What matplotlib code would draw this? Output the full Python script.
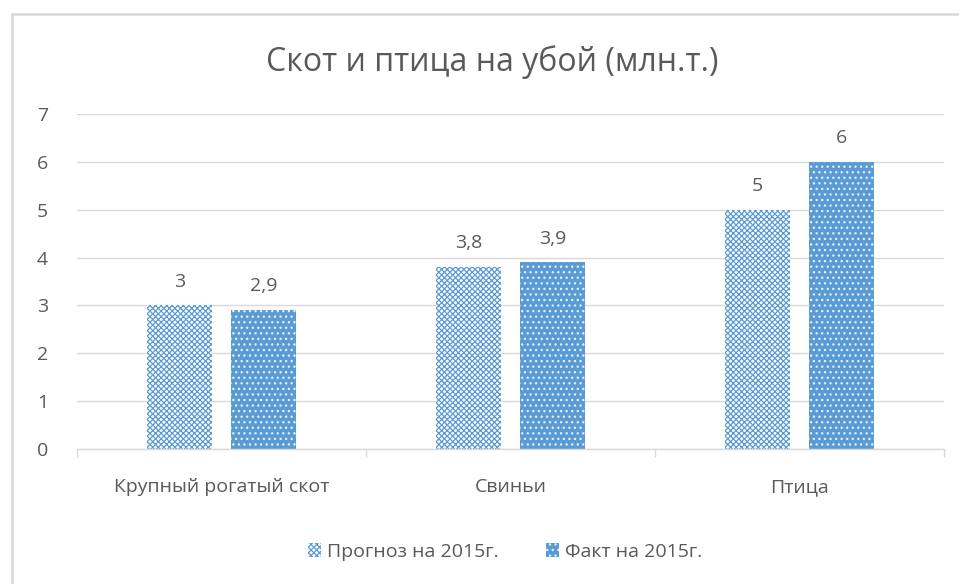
import numpy as np
import matplotlib.pyplot as plt
from matplotlib.lines import Line2D

categories = ["Крупный рогатый скот", "Свиньи", "Птица"]
forecast = [3, 3.8, 5]
actual = [2.9, 3.9, 6]
series_names = ["Прогноз на 2015г.", "Факт на 2015г."]
title = "Скот и птица на убой (млн.т.)"

BLUE = "#5B9BD5"
GRID = "#D9D9D9"
TEXT = "#595959"

plt.rcParams["font.family"] = ["Open Sans", "DejaVu Sans"]
plt.rcParams["hatch.linewidth"] = 0.9


def fmt(v):
    return f"{v:g}".replace(".", ",")


fig = plt.figure(figsize=(9.59, 5.84), dpi=100)
ax = fig.add_axes([77 / 959, 1 - 449 / 584, 867 / 959, 335 / 584])

x = np.arange(len(categories))
width = 0.225
offset = 0.145

b1 = ax.bar(x - offset, forecast, width, facecolor="white", edgecolor=BLUE,
            hatch="xxxxxx", linewidth=0, label=series_names[0])
b2 = ax.bar(x + offset, actual, width, facecolor=BLUE, edgecolor="#E8F1FA",
            hatch="...", linewidth=0, label=series_names[1])

for bars, vals in ((b1, forecast), (b2, actual)):
    for rect, v in zip(bars, vals):
        ax.text(rect.get_x() + rect.get_width() / 2, v + 0.31, fmt(v),
                ha="center", va="bottom", fontsize=14, color=TEXT)

ax.set_xlim(-0.5, len(categories) - 0.5)
ax.set_ylim(0, 7)
ax.set_yticks(range(8))
ax.set_axisbelow(True)
ax.yaxis.grid(True, color=GRID, linewidth=1)

ax.set_xticks(x)
ax.set_xticklabels(categories)
ax.set_xticks(np.arange(len(categories) + 1) - 0.5, minor=True)
ax.tick_params(axis="x", which="major", length=0, pad=21, labelsize=14, labelcolor=TEXT)
ax.tick_params(axis="x", which="minor", length=6, color=GRID, width=1)
ax.tick_params(axis="y", length=0, pad=21, labelsize=14, labelcolor=TEXT)

for s in ("top", "right", "left"):
    ax.spines[s].set_visible(False)
ax.spines["bottom"].set_color(GRID)
ax.spines["bottom"].set_linewidth(1)

fig.text(492 / 959, 1 - 62 / 584, title, ha="center", va="center",
         fontsize=23, color=TEXT)

fig.legend(handles=[b1, b2], labels=series_names, loc="center",
           bbox_to_anchor=(505 / 959, 1 - 552 / 584), ncol=2, frameon=False,
           fontsize=14, labelcolor=TEXT, handlelength=0.7, handleheight=0.7,
           handletextpad=0.3, columnspacing=2.4)

# outer chart frame (only top and left sides are visible)
fig.add_artist(Line2D([11.5 / 959, 11.5 / 959], [1 - 14 / 584, 0],
                      transform=fig.transFigure, color=GRID, linewidth=1.8))
fig.add_artist(Line2D([11.5 / 959, 1], [1 - 14 / 584, 1 - 14 / 584],
                      transform=fig.transFigure, color=GRID, linewidth=1.8))

fig.savefig("out.png", dpi=100)
